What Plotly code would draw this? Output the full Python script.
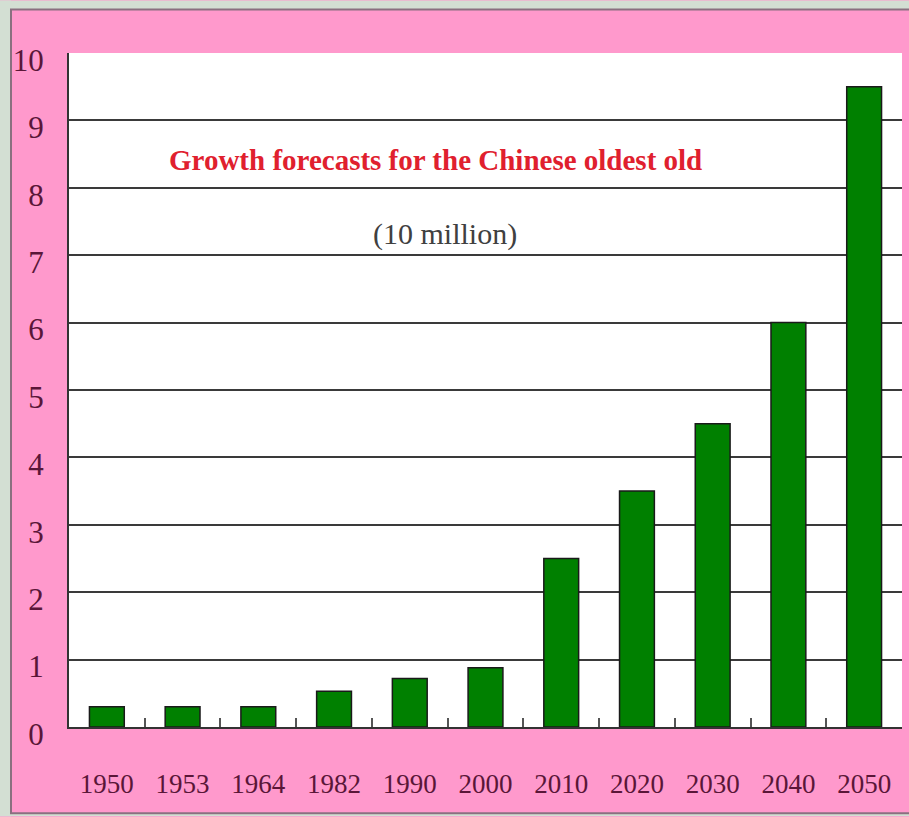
import plotly.graph_objects as go

# Oldest-old population in China, in units of 10 million
years = ["1950", "1953", "1964", "1982", "1990", "2000", "2010", "2020", "2030", "2040", "2050"]
population = [0.3, 0.3, 0.3, 0.53, 0.72, 0.88, 2.5, 3.5, 4.5, 6.0, 9.5]
y_ticks = [0, 1, 2, 3, 4, 5, 6, 7, 8, 9, 10]

W, H = 909, 817
L, R, T, B = 69, 7, 52.5, 89.5
PW, PH = W - L - R, H - T - B

def px_x(px):
    return (px - L) / PW

def px_y(py):
    return (H - B - py) / PH

PINK = "#ff99cc"
OUTER = "#d3dfd3"
LABEL = "#5a1638"
SERIF = "Liberation Serif, Times New Roman, serif"

fig = go.Figure(
    go.Bar(
        x=years,
        y=population,
        marker=dict(color="#008000", line=dict(color="#1a1a1a", width=1.5)),
        hoverinfo="x+y",
    )
)

shapes = [
    # light frame outside the pink panel
    dict(type="rect", xref="paper", yref="paper", x0=px_x(0), x1=px_x(W), y0=px_y(9), y1=px_y(0),
         fillcolor=OUTER, line=dict(width=0), layer="above"),
    dict(type="rect", xref="paper", yref="paper", x0=px_x(0), x1=px_x(11), y0=px_y(H), y1=px_y(0),
         fillcolor=OUTER, line=dict(width=0), layer="above"),
    dict(type="rect", xref="paper", yref="paper", x0=px_x(0), x1=px_x(W), y0=px_y(H), y1=px_y(814),
         fillcolor=OUTER, line=dict(width=0), layer="above"),
    # panel border
    dict(type="rect", xref="paper", yref="paper", x0=px_x(11), x1=px_x(W + 5), y0=px_y(814), y1=px_y(9),
         fillcolor="rgba(0,0,0,0)", line=dict(color="#8a7080", width=2), layer="above"),
]

fig.update_layout(
    width=W,
    height=H,
    margin=dict(l=L, r=R, t=T, b=B, pad=0),
    paper_bgcolor=PINK,
    plot_bgcolor="white",
    showlegend=False,
    bargap=0.54,
    shapes=shapes,
    annotations=[
        dict(text="Growth forecasts for the Chinese oldest old", xref="paper", yref="paper",
             x=px_x(435), y=px_y(160), showarrow=False, xanchor="center", yanchor="middle",
             font=dict(family=SERIF, size=29, color="#e0202e", weight="bold")),
        dict(text="(10 million)", xref="paper", yref="paper",
             x=px_x(445), y=px_y(234), showarrow=False, xanchor="center", yanchor="middle",
             font=dict(family=SERIF, size=30, color="#404040")),
    ],
)

fig.update_xaxes(
    type="category",
    showline=True, linecolor="#333333", linewidth=2,
    ticks="inside", tickson="boundaries", ticklen=9, tickcolor="#555555", tickwidth=1.5,
    showgrid=False,
    tickfont=dict(family=SERIF, size=27, color=LABEL),
    ticklabelstandoff=32,
)

fig.update_yaxes(
    range=[0, 10],
    tickvals=y_ticks,
    showline=True, linecolor="#333333", linewidth=2,
    showgrid=True, gridcolor="#3a3a3a", gridwidth=1.5,
    ticks="",
    zeroline=False,
    tickfont=dict(family=SERIF, size=31, color=LABEL),
    ticklabelstandoff=17,
    ticklabelshift=7,
)

fig.write_html("out.html")
